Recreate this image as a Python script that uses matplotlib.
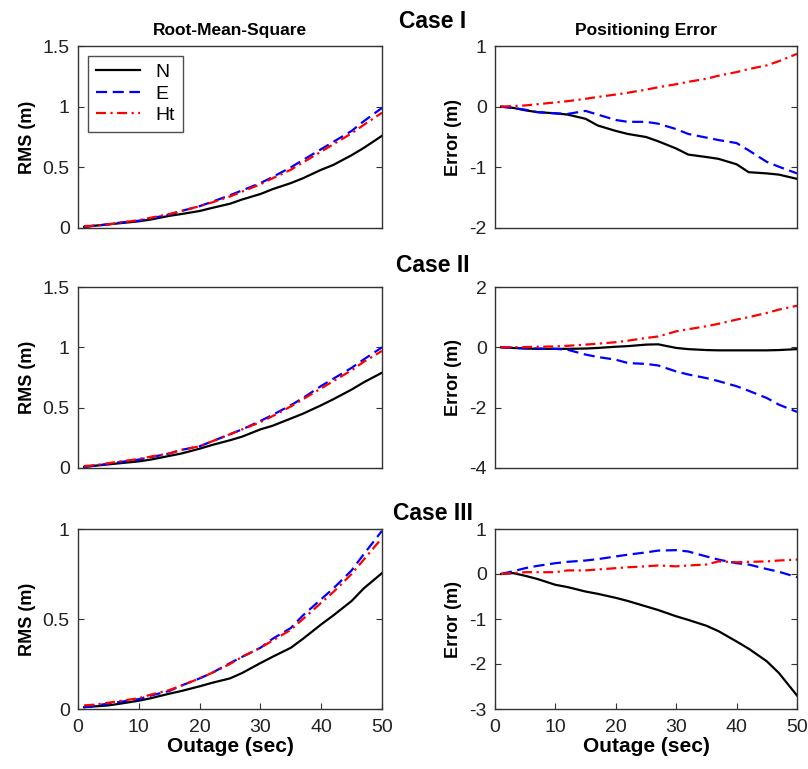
import matplotlib
matplotlib.use("Agg")
import matplotlib.pyplot as plt

plt.rcParams['font.family'] = ['Liberation Sans', 'DejaVu Sans']
plt.rcParams['axes.unicode_minus'] = False

# outage time (s)
t = [1, 3, 5, 7, 10, 12, 15, 17, 20, 22, 25, 27, 30, 32, 35, 37, 40, 42, 45, 47, 50]

# Case I
rms1_n = [0.01, 0.02, 0.03, 0.04, 0.055, 0.07, 0.10, 0.115, 0.14, 0.165, 0.20, 0.235, 0.28, 0.32, 0.37, 0.41, 0.48, 0.52, 0.60, 0.66, 0.76]
rms1_e = [0.01, 0.02, 0.03, 0.045, 0.06, 0.08, 0.11, 0.14, 0.18, 0.215, 0.27, 0.31, 0.37, 0.42, 0.50, 0.56, 0.65, 0.71, 0.80, 0.88, 0.99]
rms1_h = [0.015, 0.02, 0.03, 0.045, 0.065, 0.085, 0.115, 0.14, 0.18, 0.21, 0.26, 0.30, 0.36, 0.41, 0.48, 0.54, 0.63, 0.69, 0.78, 0.85, 0.95]
err1_n = [0, -0.02, -0.06, -0.09, -0.11, -0.13, -0.20, -0.31, -0.40, -0.45, -0.50, -0.57, -0.69, -0.79, -0.83, -0.86, -0.95, -1.08, -1.10, -1.12, -1.19]
err1_e = [0, -0.02, -0.05, -0.09, -0.11, -0.12, -0.07, -0.13, -0.22, -0.25, -0.25, -0.28, -0.37, -0.45, -0.51, -0.55, -0.60, -0.72, -0.91, -0.99, -1.10]
err1_h = [0, 0.01, 0.02, 0.04, 0.07, 0.09, 0.13, 0.16, 0.20, 0.23, 0.28, 0.32, 0.37, 0.41, 0.46, 0.51, 0.57, 0.62, 0.68, 0.75, 0.87]

# Case II
rms2_n = [0.01, 0.02, 0.03, 0.04, 0.055, 0.07, 0.10, 0.12, 0.16, 0.19, 0.23, 0.26, 0.32, 0.35, 0.41, 0.45, 0.52, 0.57, 0.65, 0.71, 0.79]
rms2_e = [0.01, 0.02, 0.035, 0.05, 0.07, 0.09, 0.12, 0.15, 0.18, 0.22, 0.28, 0.32, 0.39, 0.44, 0.52, 0.58, 0.68, 0.74, 0.83, 0.90, 1.00]
rms2_h = [0.015, 0.025, 0.04, 0.055, 0.075, 0.095, 0.12, 0.15, 0.18, 0.22, 0.28, 0.32, 0.38, 0.43, 0.51, 0.57, 0.66, 0.72, 0.81, 0.88, 0.97]
err2_n = [0, -0.02, -0.04, -0.05, -0.05, -0.05, -0.04, -0.02, 0.02, 0.04, 0.09, 0.10, -0.02, -0.06, -0.09, -0.10, -0.10, -0.10, -0.10, -0.09, -0.06]
err2_e = [0, -0.02, -0.03, -0.04, -0.05, -0.08, -0.24, -0.32, -0.41, -0.52, -0.55, -0.60, -0.80, -0.90, -1.02, -1.12, -1.29, -1.44, -1.68, -1.90, -2.14]
err2_h = [0, 0.0, 0.01, 0.02, 0.03, 0.05, 0.09, 0.12, 0.17, 0.22, 0.31, 0.36, 0.53, 0.60, 0.70, 0.78, 0.92, 1.00, 1.14, 1.25, 1.38]

# Case III
rms3_n = [0.01, 0.015, 0.02, 0.03, 0.046, 0.06, 0.085, 0.10, 0.126, 0.145, 0.17, 0.20, 0.255, 0.29, 0.34, 0.39, 0.47, 0.52, 0.60, 0.67, 0.755]
rms3_e = [0.01, 0.02, 0.03, 0.04, 0.055, 0.075, 0.10, 0.13, 0.17, 0.20, 0.255, 0.29, 0.34, 0.39, 0.45, 0.52, 0.61, 0.67, 0.77, 0.86, 0.99]
rms3_h = [0.02, 0.025, 0.035, 0.045, 0.06, 0.08, 0.105, 0.13, 0.17, 0.20, 0.25, 0.29, 0.34, 0.38, 0.44, 0.50, 0.59, 0.65, 0.75, 0.83, 0.95]
err3_n = [0, 0.02, -0.04, -0.11, -0.24, -0.29, -0.39, -0.44, -0.53, -0.60, -0.72, -0.80, -0.94, -1.02, -1.15, -1.27, -1.50, -1.66, -1.94, -2.20, -2.70]
err3_e = [0, 0.06, 0.13, 0.18, 0.24, 0.27, 0.30, 0.33, 0.39, 0.43, 0.48, 0.52, 0.53, 0.50, 0.39, 0.32, 0.24, 0.21, 0.11, 0.05, -0.07]
err3_h = [0, 0.02, 0.04, 0.04, 0.04, 0.08, 0.08, 0.10, 0.13, 0.15, 0.17, 0.19, 0.17, 0.19, 0.21, 0.28, 0.26, 0.27, 0.28, 0.30, 0.32]

case_names = ['Case I', 'Case II', 'Case III']
rms_data = [(rms1_n, rms1_e, rms1_h), (rms2_n, rms2_e, rms2_h), (rms3_n, rms3_e, rms3_h)]
err_data = [(err1_n, err1_e, err1_h), (err2_n, err2_e, err2_h), (err3_n, err3_e, err3_h)]
rms_lims = [(0, 1.5, [0, 0.5, 1, 1.5], ['0', '0.5', '1', '1.5']),
            (0, 1.5, [0, 0.5, 1, 1.5], ['0', '0.5', '1', '1.5']),
            (0, 1, [0, 0.5, 1], ['0', '0.5', '1'])]
err_lims = [(-2, 1, [-2, -1, 0, 1]), (-4, 2, [-4, -2, 0, 2]), (-3, 1, [-3, -2, -1, 0, 1])]
x_ticks = [0, 10, 20, 30, 40, 50]

W, H = 808, 769
fig = plt.figure(figsize=(W / 100, H / 100), dpi=100)

# axes boxes in pixels: (top, bottom) and (left, right)
rows_px = [(46, 228), (287, 468), (529, 709)]
cols_px = [(78, 382), (495, 797)]

styles = [dict(color='black', lw=1.6, ls='-'),
          dict(color='blue', lw=1.6, ls=(0, (5, 2.5))),
          dict(color='red', lw=1.6, ls=(0, (4.5, 2, 1, 2)))]
labels = ['N', 'E', 'Ht']
tick_color = '#222222'


def style_axes(ax):
    for s in ax.spines.values():
        s.set_linewidth(1.0)
        s.set_color('#333333')
    ax.tick_params(direction='in', length=4, width=0.8, colors='#333333',
                   labelcolor=tick_color, labelsize=14, right=True, top=False)
    ax.tick_params(axis='x', pad=7)
    ax.tick_params(axis='y', pad=6)
    ax.set_xlim(0, 50)


for r in range(3):
    top, bot = rows_px[r]
    axes = []
    for c in range(2):
        left, right = cols_px[c]
        ax = fig.add_axes([left / W, 1 - bot / H, (right - left) / W, (bot - top) / H])
        style_axes(ax)
        axes.append(ax)
    ax_rms, ax_err = axes

    for series, st, lab in zip(rms_data[r], styles, labels):
        ax_rms.plot(t, series, label=lab, **st)
    for series, st in zip(err_data[r], styles):
        ax_err.plot(t, series, **st)

    lo, hi, yt, ytl = rms_lims[r]
    ax_rms.set_ylim(lo, hi)
    ax_rms.set_yticks(yt)
    ax_rms.set_yticklabels(ytl)
    elo, ehi, eyt = err_lims[r]
    ax_err.set_ylim(elo, ehi)
    ax_err.set_yticks(eyt)

    ax_rms.set_ylabel('RMS (m)', fontsize=13, fontweight='bold', labelpad=5)
    ax_err.set_ylabel('Error (m)', fontsize=13, fontweight='bold', labelpad=5)

    if r < 2:
        for ax in axes:
            ax.set_xticks([])
    else:
        for ax in axes:
            ax.set_xticks(x_ticks)
            ax.set_xlabel('Outage (sec)', fontsize=15, fontweight='bold', labelpad=1)

    if r == 0:
        ax_rms.set_title('Root-Mean-Square', fontsize=12.5, fontweight='bold', pad=8)
        ax_err.set_title('Positioning Error', fontsize=12.5, fontweight='bold', pad=8)
        leg = ax_rms.legend(loc='upper left', fontsize=14, frameon=True, fancybox=False,
                            borderpad=0.4, handlelength=2.3, labelspacing=0.2,
                            borderaxespad=0.5)
        leg.get_frame().set_edgecolor('#222222')
        leg.get_frame().set_linewidth(1.0)

case_y = [21, 265, 513]
for name, y in zip(case_names, case_y):
    fig.text(433 / W, 1 - y / H, name, fontsize=16.5, fontweight='bold',
             ha='center', va='center')

fig.savefig('out.png', dpi=100)
